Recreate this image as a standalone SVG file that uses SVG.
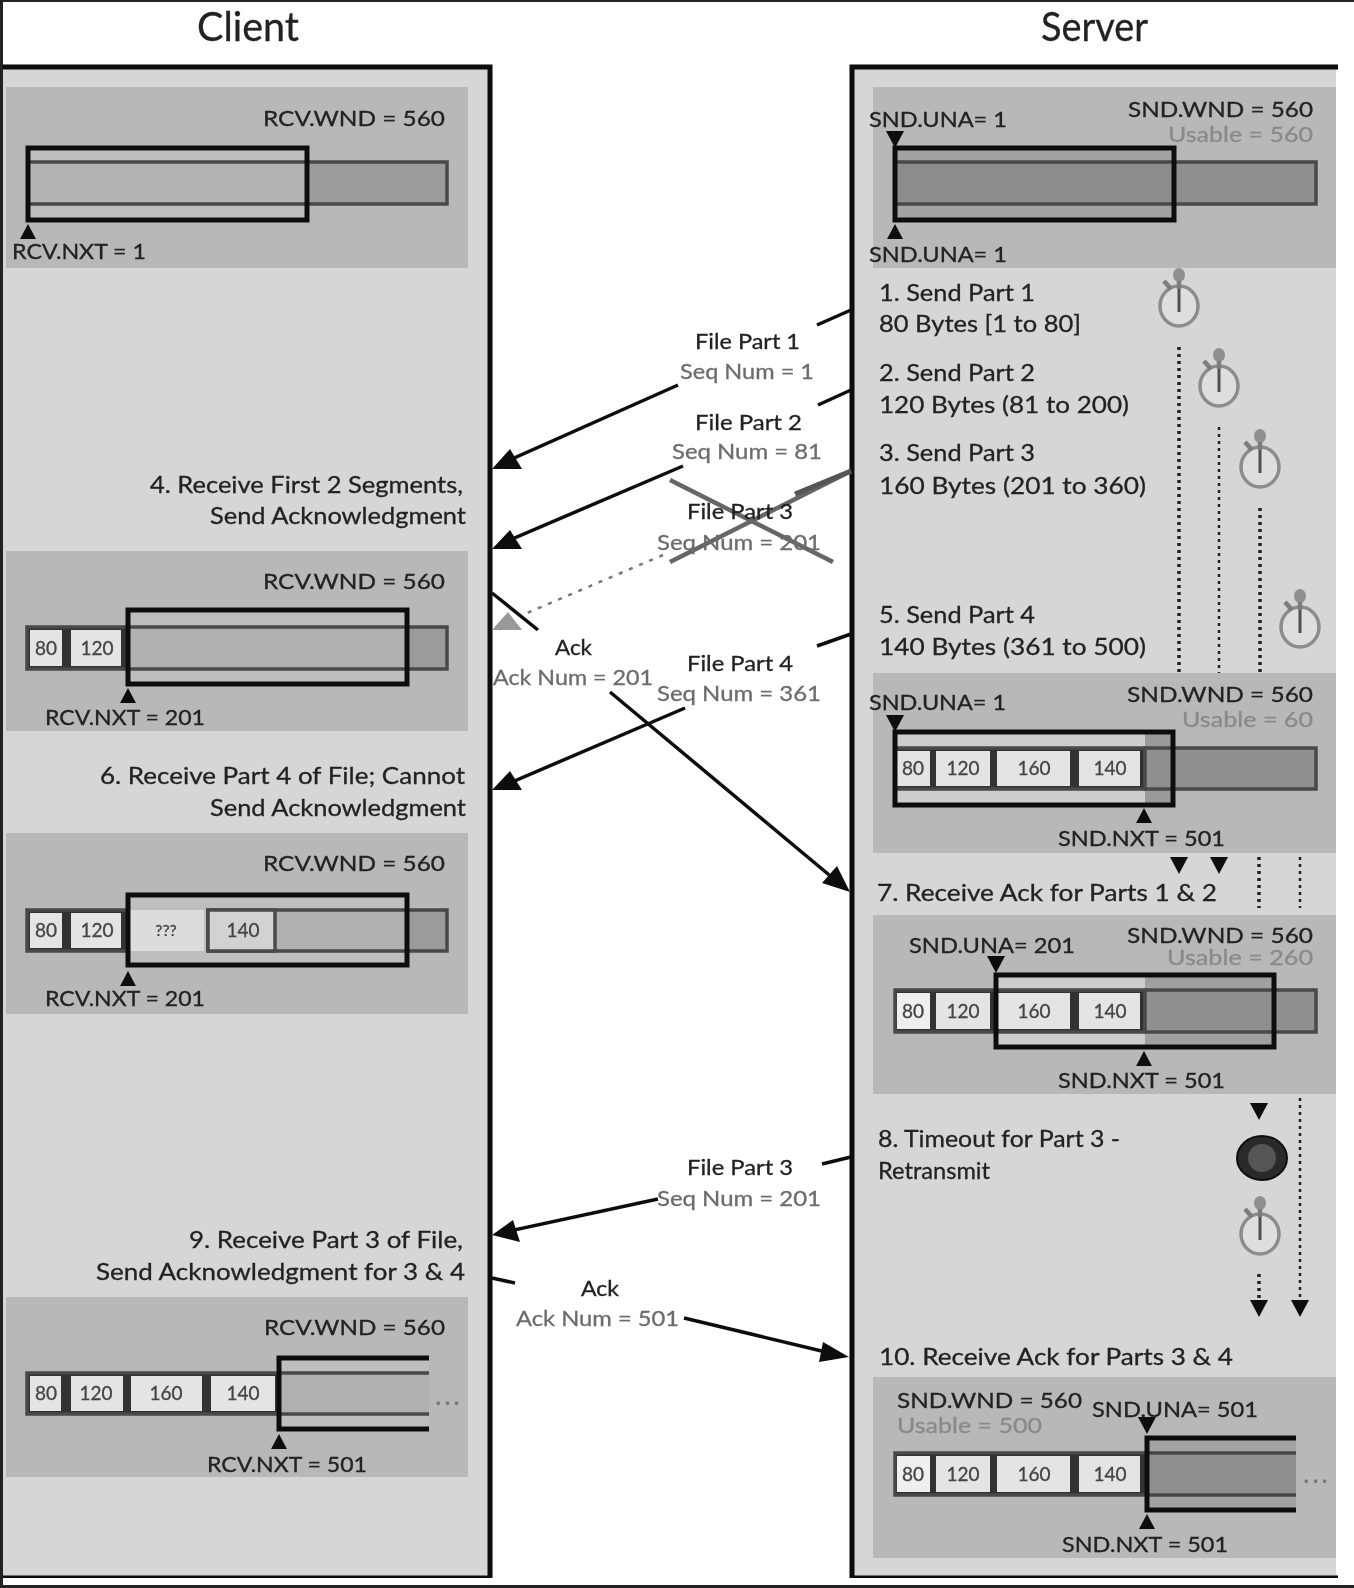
<svg xmlns="http://www.w3.org/2000/svg" xmlns:xlink="http://www.w3.org/1999/xlink" width="1354" height="1588" viewBox="0 0 1354 1588">
<style>
text{font-family:"Lato","Liberation Sans",sans-serif;fill:#222;stroke:#222;stroke-width:.3px}
.title{font-size:40px;fill:#222}
.s{font-size:21px}
.m{font-size:24px}
.c{font-size:19px;text-anchor:middle;fill:#444;stroke:#444}
.u{font-size:21px;fill:#8a8a8a;stroke:#8a8a8a}
.q{font-size:21px;fill:#6c6c6c;stroke:#6c6c6c}
.dots{font-size:26px;text-anchor:middle;fill:#777;stroke:#777;letter-spacing:3px}
.panel{fill:#d6d6d6}
.sec{fill:#b8b8b8}
.win{fill:none;stroke:#111;stroke-width:5}
.bar{stroke:#484848;stroke-width:3.5}
.cell{fill:#e4e4e4}
.frame{fill:none;stroke:#0c0c0c;stroke-width:5}
.wire{fill:none;stroke:#111;stroke-width:3.5}
.dot{stroke:#222;stroke-width:3.5;stroke-dasharray:3 4;fill:none}
.dotthin{stroke:#222;stroke-width:2.5;stroke-dasharray:3 4;fill:none}
.x{stroke:#666;stroke-width:4.5;fill:none}
</style>
<defs>
<polygon id="up" points="0,0 8,15 -8,15" fill="#111"/>
<polygon id="dn" points="0,0 9,-17 -9,-17" fill="#111"/>
<g id="clock">
<ellipse cx="0" cy="0" rx="19" ry="20" fill="#dedede" stroke="#8c8c8c" stroke-width="3.5"/>
<ellipse cx="0" cy="-31" rx="6" ry="7" fill="#8f8f8f"/>
<path d="M0,-25V-17M-15,-25L-8,-17" stroke="#7c7c7c" stroke-width="4.5" fill="none"/>
<path d="M0,-17V6" stroke="#505050" stroke-width="3"/>
</g>
<filter id="soft" x="0" y="0" width="100%" height="100%"><feGaussianBlur stdDeviation="0.55"/></filter>
</defs>
<rect width="1354" height="1588" fill="#fff"/>
<g filter="url(#soft)">
<g id="client-panel">
<rect class="panel" x="3" y="67" width="487" height="1511"/>
<path class="frame" d="M3,67H490V1578H3"/>
<text class="title" x="197" y="41" textLength="102" lengthAdjust="spacingAndGlyphs">Client</text>
</g>
<g id="server-panel">
<rect class="panel" x="852" y="67" width="484" height="1511"/>
<path class="frame" d="M1338,67H852V1578H1338"/>
<text class="title" x="1041" y="41" textLength="107" lengthAdjust="spacingAndGlyphs">Server</text>
</g>

<g id="client-state-1">
<rect class="sec" x="6" y="87" width="462" height="181"/>
<rect x="28" y="148" width="279" height="72" fill="#bebebe"/>
<rect class="bar" x="28" y="162" width="279" height="42" fill="#b4b4b4"/>
<rect class="bar" x="307" y="162" width="140" height="42" fill="#9b9b9b"/>
<rect class="win" x="28" y="148" width="279" height="72"/>
<use xlink:href="#up" href="#up" x="28" y="224"/>
<text class="s" x="263" y="126" textLength="182" lengthAdjust="spacingAndGlyphs">RCV.WND = 560</text>
<text class="s" x="12" y="259" textLength="134" lengthAdjust="spacingAndGlyphs">RCV.NXT = 1</text>
</g>

<g id="server-state-1">
<rect class="sec" x="873" y="87" width="463" height="181"/>
<rect x="895" y="148" width="279" height="72" fill="#a2a2a2"/>
<rect class="bar" x="895" y="162" width="279" height="42" fill="#8c8c8c"/>
<rect class="bar" x="1174" y="162" width="142" height="42" fill="#8f8f8f"/>
<rect class="win" x="895" y="148" width="279" height="72"/>
<use xlink:href="#dn" href="#dn" x="895" y="148"/>
<use xlink:href="#up" href="#up" x="895" y="224"/>
<text class="s" x="869" y="127" textLength="138" lengthAdjust="spacingAndGlyphs">SND.UNA= 1</text>
<text class="s" x="1128" y="117" textLength="185" lengthAdjust="spacingAndGlyphs">SND.WND = 560</text>
<text class="u" x="1168" y="142" textLength="145" lengthAdjust="spacingAndGlyphs">Usable = 560</text>
<text class="s" x="869" y="262" textLength="138" lengthAdjust="spacingAndGlyphs">SND.UNA= 1</text>
</g>

<g id="server-steps-1-3">
<text class="m" x="879" y="301" textLength="156" lengthAdjust="spacingAndGlyphs">1. Send Part 1</text>
<text class="m" x="879" y="332" textLength="202" lengthAdjust="spacingAndGlyphs">80 Bytes [1 to 80]</text>
<text class="m" x="879" y="381" textLength="156" lengthAdjust="spacingAndGlyphs">2. Send Part 2</text>
<text class="m" x="879" y="413" textLength="250" lengthAdjust="spacingAndGlyphs">120 Bytes (81 to 200)</text>
<text class="m" x="879" y="461" textLength="156" lengthAdjust="spacingAndGlyphs">3. Send Part 3</text>
<text class="m" x="879" y="494" textLength="267" lengthAdjust="spacingAndGlyphs">160 Bytes (201 to 360)</text>
</g>
<g id="server-step-5">
<text class="m" x="879" y="623" textLength="156" lengthAdjust="spacingAndGlyphs">5. Send Part 4</text>
<text class="m" x="879" y="655" textLength="267" lengthAdjust="spacingAndGlyphs">140 Bytes (361 to 500)</text>
</g>

<g id="timers">
<use xlink:href="#clock" href="#clock" x="1179" y="306"/>
<use xlink:href="#clock" href="#clock" x="1219" y="386"/>
<use xlink:href="#clock" href="#clock" x="1260" y="467"/>
<use xlink:href="#clock" href="#clock" x="1300" y="627"/>
<ellipse cx="1262" cy="1158" rx="25" ry="22" fill="#2a2a2a" stroke="#111" stroke-width="2"/>
<ellipse cx="1262" cy="1158" rx="14" ry="14" fill="#555"/>
<use xlink:href="#clock" href="#clock" x="1260" y="1234"/>
</g>

<g id="timer-lines">
<path class="dot" d="M1179,347V673"/>
<path class="dotthin" d="M1219,427V673"/>
<path class="dot" d="M1260,508V673"/>
<path class="dot" d="M1259,857V908"/>
<path class="dotthin" d="M1300,857V908"/>
<path class="dot" d="M1259,1274V1298"/>
<path class="dotthin" d="M1300,1098V1300"/>
<use xlink:href="#dn" href="#dn" x="1179" y="874"/>
<use xlink:href="#dn" href="#dn" x="1219" y="874"/>
<use xlink:href="#dn" href="#dn" x="1259" y="1120"/>
<use xlink:href="#dn" href="#dn" x="1259" y="1317"/>
<use xlink:href="#dn" href="#dn" x="1300" y="1317"/>
</g>

<g id="server-state-2">
<rect class="sec" x="873" y="673" width="463" height="180"/>
<rect x="895" y="732" width="250" height="73" fill="#cdcdcd"/>
<rect x="1145" y="732" width="28" height="73" fill="#9a9a9a"/>
<rect class="bar" x="895" y="748" width="250" height="41" fill="#333"/>
<rect class="bar" x="1145" y="748" width="171" height="41" fill="#8f8f8f"/>
<rect class="cell" x="897" y="751" width="33" height="35"/>
<rect class="cell" x="936" y="751" width="54" height="35"/>
<rect class="cell" x="997" y="751" width="73" height="35"/>
<rect class="cell" x="1079" y="751" width="61" height="35"/>
<rect class="win" x="895" y="732" width="278" height="73"/>
<use xlink:href="#dn" href="#dn" x="895" y="732"/>
<use xlink:href="#up" href="#up" x="1144" y="808"/>
<text class="c" x="913" y="775">80</text><text class="c" x="963" y="775">120</text><text class="c" x="1034" y="775">160</text><text class="c" x="1110" y="775">140</text>
<text class="s" x="869" y="710" textLength="137" lengthAdjust="spacingAndGlyphs">SND.UNA= 1</text>
<text class="s" x="1127" y="702" textLength="186" lengthAdjust="spacingAndGlyphs">SND.WND = 560</text>
<text class="u" x="1182" y="727" textLength="131" lengthAdjust="spacingAndGlyphs">Usable = 60</text>
<text class="s" x="1058" y="846" textLength="167" lengthAdjust="spacingAndGlyphs">SND.NXT = 501</text>
</g>

<g id="server-step-7"><text class="m" x="877" y="901" textLength="340" lengthAdjust="spacingAndGlyphs">7. Receive Ack for Parts 1 &amp; 2</text></g>

<g id="server-state-3">
<rect class="sec" x="873" y="915" width="463" height="179"/>
<rect x="996" y="975" width="149" height="72" fill="#cdcdcd"/>
<rect x="1145" y="975" width="129" height="72" fill="#a0a0a0"/>
<rect class="bar" x="895" y="990" width="250" height="42" fill="#333"/>
<rect class="bar" x="1145" y="990" width="171" height="42" fill="#8f8f8f"/>
<rect class="cell" x="897" y="993" width="33" height="36" style="fill:#efefef"/>
<rect class="cell" x="936" y="993" width="54" height="36"/>
<rect class="cell" x="997" y="993" width="73" height="36"/>
<rect class="cell" x="1079" y="993" width="61" height="36"/>
<rect class="win" x="996" y="975" width="278" height="72"/>
<use xlink:href="#dn" href="#dn" x="996" y="973"/>
<use xlink:href="#up" href="#up" x="1144" y="1051"/>
<text class="c" x="913" y="1018">80</text><text class="c" x="963" y="1018">120</text><text class="c" x="1034" y="1018">160</text><text class="c" x="1110" y="1018">140</text>
<text class="s" x="909" y="953" textLength="166" lengthAdjust="spacingAndGlyphs">SND.UNA= 201</text>
<text class="s" x="1127" y="943" textLength="186" lengthAdjust="spacingAndGlyphs">SND.WND = 560</text>
<text class="u" x="1167" y="965" textLength="146" lengthAdjust="spacingAndGlyphs">Usable = 260</text>
<text class="s" x="1058" y="1088" textLength="167" lengthAdjust="spacingAndGlyphs">SND.NXT = 501</text>
</g>

<g id="server-step-8">
<text class="m" x="878" y="1147" textLength="242" lengthAdjust="spacingAndGlyphs">8. Timeout for Part 3 -</text>
<text class="m" x="878" y="1179" textLength="112" lengthAdjust="spacingAndGlyphs">Retransmit</text>
</g>
<g id="server-step-10"><text class="m" x="879" y="1365" textLength="354" lengthAdjust="spacingAndGlyphs">10. Receive Ack for Parts 3 &amp; 4</text></g>

<g id="server-state-4">
<rect class="sec" x="873" y="1377" width="463" height="181"/>
<rect x="1147" y="1438" width="149" height="72" fill="#a2a2a2"/>
<rect class="bar" x="895" y="1453" width="252" height="42" fill="#333"/>
<path d="M1147,1453H1296M1147,1495H1296" stroke="#444" stroke-width="3.5"/>
<rect x="1147" y="1455" width="149" height="38" fill="#8f8f8f"/>
<rect class="cell" x="897" y="1456" width="33" height="36" style="fill:#efefef"/>
<rect class="cell" x="936" y="1456" width="54" height="36"/>
<rect class="cell" x="997" y="1456" width="73" height="36"/>
<rect class="cell" x="1079" y="1456" width="61" height="36"/>
<path d="M1296,1438H1147V1510H1296" class="win"/>
<use xlink:href="#dn" href="#dn" x="1147" y="1434"/>
<use xlink:href="#up" href="#up" x="1147" y="1514"/>
<text class="c" x="913" y="1481">80</text><text class="c" x="963" y="1481">120</text><text class="c" x="1034" y="1481">160</text><text class="c" x="1110" y="1481">140</text>
<text class="s" x="897" y="1408" textLength="185" lengthAdjust="spacingAndGlyphs">SND.WND = 560</text>
<text class="u" x="897" y="1433" textLength="145" lengthAdjust="spacingAndGlyphs">Usable = 500</text>
<text class="s" x="1092" y="1417" textLength="166" lengthAdjust="spacingAndGlyphs">SND.UNA= 501</text>
<text class="s" x="1062" y="1552" textLength="166" lengthAdjust="spacingAndGlyphs">SND.NXT = 501</text>
<text class="dots" x="1317" y="1483">...</text>
</g>

<g id="client-step-4">
<text class="m" x="150" y="493" textLength="313" lengthAdjust="spacingAndGlyphs">4. Receive First 2 Segments,</text>
<text class="m" x="210" y="524" textLength="256" lengthAdjust="spacingAndGlyphs">Send Acknowledgment</text>
</g>
<g id="client-state-2">
<rect class="sec" x="6" y="551" width="462" height="180"/>
<rect x="128" y="610" width="279" height="74" fill="#bebebe"/>
<rect class="bar" x="27" y="627" width="101" height="42" fill="#333"/>
<rect class="bar" x="128" y="627" width="279" height="42" fill="#b0b0b0"/>
<rect class="bar" x="407" y="627" width="40" height="42" fill="#9b9b9b"/>
<rect class="cell" x="30" y="630" width="32" height="36"/>
<rect class="cell" x="71" y="630" width="50" height="36"/>
<rect class="win" x="128" y="610" width="279" height="74"/>
<use xlink:href="#up" href="#up" x="128" y="688"/>
<text class="c" x="46" y="655">80</text><text class="c" x="97" y="655">120</text>
<text class="s" x="263" y="589" textLength="182" lengthAdjust="spacingAndGlyphs">RCV.WND = 560</text>
<text class="s" x="45" y="725" textLength="160" lengthAdjust="spacingAndGlyphs">RCV.NXT = 201</text>
</g>

<g id="client-step-6">
<text class="m" x="100" y="784" textLength="365" lengthAdjust="spacingAndGlyphs">6. Receive Part 4 of File; Cannot</text>
<text class="m" x="210" y="816" textLength="256" lengthAdjust="spacingAndGlyphs">Send Acknowledgment</text>
</g>
<g id="client-state-3">
<rect class="sec" x="6" y="833" width="462" height="181"/>
<rect x="128" y="895" width="279" height="70" fill="#bebebe"/>
<rect class="bar" x="27" y="910" width="101" height="41" fill="#333"/>
<rect class="bar" x="208" y="910" width="199" height="41" fill="#b0b0b0"/>
<rect class="bar" x="407" y="910" width="40" height="41" fill="#9b9b9b"/>
<rect class="cell" x="30" y="913" width="32" height="35"/>
<rect class="cell" x="71" y="913" width="50" height="35"/>
<rect x="130" y="910" width="74" height="41" fill="#dcdcdc"/>
<rect class="bar" x="208" y="910" width="67" height="41" fill="#d2d2d2"/>
<rect class="win" x="128" y="895" width="279" height="70"/>
<use xlink:href="#up" href="#up" x="128" y="971"/>
<text class="c" x="46" y="937">80</text><text class="c" x="97" y="937">120</text><text class="c" x="166" y="936" style="font-size:16px">???</text><text class="c" x="243" y="937">140</text>
<text class="s" x="263" y="871" textLength="182" lengthAdjust="spacingAndGlyphs">RCV.WND = 560</text>
<text class="s" x="45" y="1006" textLength="160" lengthAdjust="spacingAndGlyphs">RCV.NXT = 201</text>
</g>

<g id="client-step-9">
<text class="m" x="189" y="1248" textLength="274" lengthAdjust="spacingAndGlyphs">9. Receive Part 3 of File,</text>
<text class="m" x="96" y="1280" textLength="369" lengthAdjust="spacingAndGlyphs">Send Acknowledgment for 3 &amp; 4</text>
</g>
<g id="client-state-4">
<rect class="sec" x="6" y="1297" width="462" height="180"/>
<rect x="279" y="1358" width="150" height="71" fill="#bebebe"/>
<rect class="bar" x="27" y="1373" width="252" height="41" fill="#333"/>
<path d="M279,1373H429M279,1414H429" stroke="#484848" stroke-width="3.5"/>
<rect x="279" y="1375" width="150" height="37" fill="#b0b0b0"/>
<rect class="cell" x="30" y="1376" width="31" height="35"/>
<rect class="cell" x="71" y="1376" width="52" height="35"/>
<rect class="cell" x="131" y="1376" width="71" height="35"/>
<rect class="cell" x="211" y="1376" width="64" height="35"/>
<path class="win" d="M429,1358H279V1429H429"/>
<use xlink:href="#up" href="#up" x="279" y="1434"/>
<text class="c" x="46" y="1400">80</text><text class="c" x="96" y="1400">120</text><text class="c" x="166" y="1400">160</text><text class="c" x="243" y="1400">140</text>
<text class="dots" x="449" y="1405">...</text>
<text class="s" x="264" y="1335" textLength="181" lengthAdjust="spacingAndGlyphs">RCV.WND = 560</text>
<text class="s" x="207" y="1472" textLength="160" lengthAdjust="spacingAndGlyphs">RCV.NXT = 501</text>
</g>

<g id="connectors">
<path class="wire" d="M851,310L817,325M678,385L505,462"/>
<polygon points="492,469 510,449 522,469" fill="#111"/>
<path class="wire" d="M851,390L818,405M683,466L505,542"/>
<polygon points="492,549 510,530 522,549" fill="#111"/>
<path class="x" d="M670,480L833,562M670,562L851,471"/>
<path d="M795,494L851,471" stroke="#555" stroke-width="5" fill="none"/>
<path d="M663,555L527,613" stroke="#777" stroke-width="2.5" stroke-dasharray="4 7" fill="none"/>
<polygon points="492,630 508,612 522,630" fill="#999"/>
<path class="wire" d="M492,593L538,630M610,692L840,884"/>
<polygon points="850,892 837,866 822,883" fill="#111"/>
<path class="wire" d="M851,634L817,646M685,708L505,785"/>
<polygon points="492,790 510,771 522,790" fill="#111"/>
<path class="wire" d="M851,1157L822,1164M658,1199L505,1232"/>
<polygon points="492,1235 513,1220 520,1242" fill="#111"/>
<path class="wire" d="M492,1278L515,1283M684,1318L830,1353"/>
<polygon points="849,1357 823,1342 819,1362" fill="#111"/>
</g>

<g id="connector-labels">
<text class="s" x="695" y="349" textLength="105" lengthAdjust="spacingAndGlyphs">File Part 1</text>
<text class="q" x="680" y="379" textLength="134" lengthAdjust="spacingAndGlyphs">Seq Num = 1</text>
<text class="s" x="695" y="430" textLength="107" lengthAdjust="spacingAndGlyphs">File Part 2</text>
<text class="q" x="672" y="459" textLength="150" lengthAdjust="spacingAndGlyphs">Seq Num = 81</text>
<text class="s" x="687" y="519" textLength="106" lengthAdjust="spacingAndGlyphs">File Part 3</text>
<text class="q" x="657" y="550" textLength="164" lengthAdjust="spacingAndGlyphs">Seq Num = 201</text>
<text class="s" x="555" y="655" textLength="37" lengthAdjust="spacingAndGlyphs">Ack</text>
<text class="q" x="493" y="685" textLength="160" lengthAdjust="spacingAndGlyphs">Ack Num = 201</text>
<text class="s" x="687" y="671" textLength="106" lengthAdjust="spacingAndGlyphs">File Part 4</text>
<text class="q" x="657" y="701" textLength="164" lengthAdjust="spacingAndGlyphs">Seq Num = 361</text>
<text class="s" x="687" y="1175" textLength="106" lengthAdjust="spacingAndGlyphs">File Part 3</text>
<text class="q" x="657" y="1206" textLength="164" lengthAdjust="spacingAndGlyphs">Seq Num = 201</text>
<text class="s" x="581" y="1296" textLength="38" lengthAdjust="spacingAndGlyphs">Ack</text>
<text class="q" x="516" y="1326" textLength="163" lengthAdjust="spacingAndGlyphs">Ack Num = 501</text>
</g>
</g>
<g id="page-edge" fill="#222">
<rect x="0" y="0" width="1354" height="2"/>
<rect x="0" y="0" width="3" height="1588"/>
<rect x="0" y="1585" width="1354" height="3"/>
</g>
</svg>
